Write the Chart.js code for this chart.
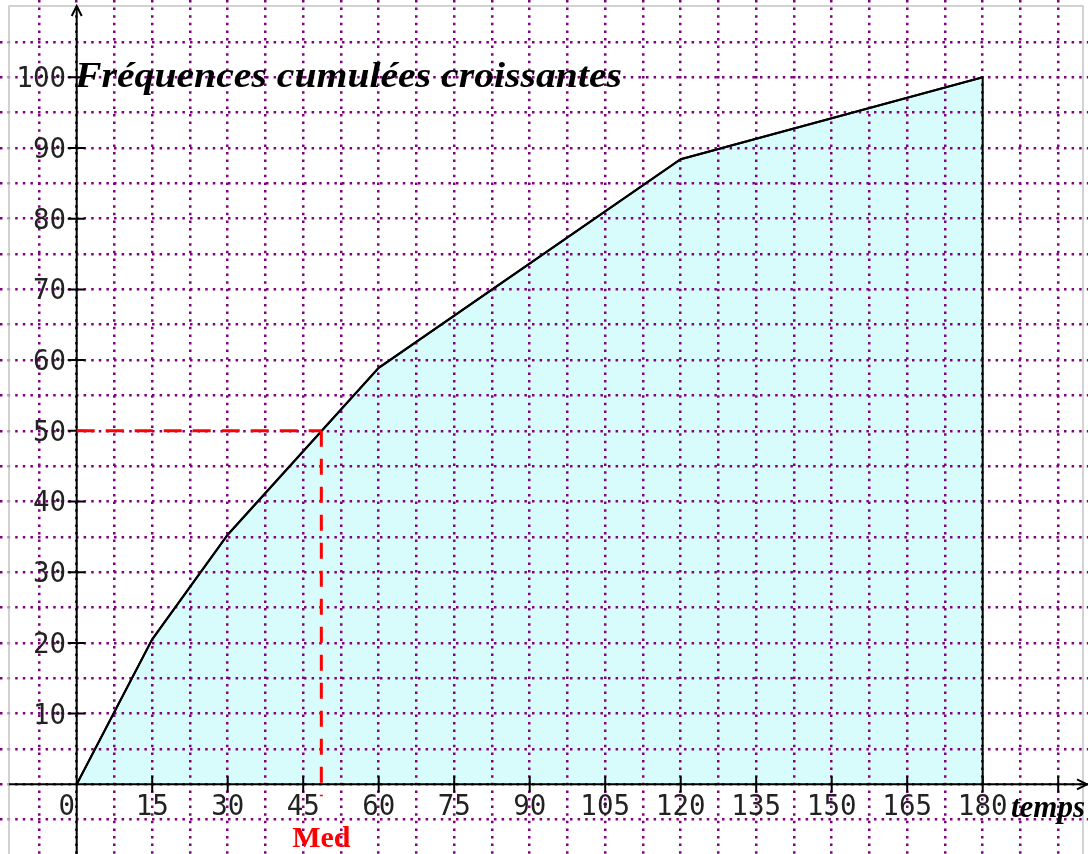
<!DOCTYPE html>
<html>
<head>
<meta charset="utf-8">
<script src="https://cdn.jsdelivr.net/npm/chart.js@4.4.1/dist/chart.umd.min.js"></script>
<style>
  html, body { margin: 0; padding: 0; background: #fff; }
  canvas { display: block; }
</style>
</head>
<body>
<canvas id="chart" width="1088" height="854"></canvas>
<script>
// temps (x) et fréquences cumulées croissantes en % (y)
var temps = [0, 15, 30, 60, 120, 180];
var freqCumulees = [0, 20.5, 35.3, 58.9, 88.4, 100];

var xLabels = [0, 15, 30, 45, 60, 75, 90, 105, 120, 135, 150, 165, 180];
var xTickMarks = [15, 30, 45, 60, 75, 90, 105, 120, 135, 150, 165, 180, 195];
var yLabels = [10, 20, 30, 40, 50, 60, 70, 80, 90, 100];

var mediane = 48.6;
var medianeFreq = 50;

function fitText(ctx, txt, x, y, w) {
    var m = ctx.measureText(txt).width;
    ctx.save();
    ctx.translate(x, y);
    ctx.scale(w / m, 1);
    ctx.fillText(txt, 0, 0);
    ctx.restore();
}

var decor = {
    id: 'decor',
    afterDraw: function (chart) {
        var ctx = chart.ctx;
        var xs = chart.scales.x, ys = chart.scales.y;
        var x0 = xs.getPixelForValue(0), y0 = ys.getPixelForValue(0);
        ctx.save();

        // cadre
        ctx.strokeStyle = '#c4c4c4';
        ctx.lineWidth = 1.5;
        ctx.strokeRect(9, 6, 1074, 900);

        // polygone : re-tracer la courbe par dessus la grille + côté vertical final
        var pts = chart.getDatasetMeta(0).data;
        ctx.strokeStyle = '#000';
        ctx.lineWidth = 2;
        ctx.beginPath();
        ctx.moveTo(pts[0].x, pts[0].y);
        for (var i = 1; i < pts.length; i++) ctx.lineTo(pts[i].x, pts[i].y);
        ctx.lineTo(pts[pts.length - 1].x, y0);
        ctx.stroke();

        // axes
        ctx.lineWidth = 2;
        ctx.beginPath();
        ctx.moveTo(9, y0); ctx.lineTo(1087, y0);
        ctx.moveTo(x0, 854); ctx.lineTo(x0, 6);
        ctx.stroke();
        // flèches
        ctx.beginPath();
        ctx.moveTo(1077, y0 - 5); ctx.lineTo(1087, y0); ctx.lineTo(1077, y0 + 5);
        ctx.moveTo(x0 - 5, 16); ctx.lineTo(x0, 6); ctx.lineTo(x0 + 5, 16);
        ctx.stroke();

        // graduations
        ctx.beginPath();
        xTickMarks.forEach(function (v) {
            var px = xs.getPixelForValue(v);
            ctx.moveTo(px, y0 - 8); ctx.lineTo(px, y0 + 8);
        });
        yLabels.forEach(function (v) {
            var py = ys.getPixelForValue(v);
            ctx.moveTo(x0 - 9, py); ctx.lineTo(x0 + 8, py);
        });
        ctx.stroke();

        // étiquettes
        ctx.fillStyle = '#222';
        ctx.font = '27.5px "DejaVu Sans Mono"';
        ctx.textAlign = 'center';
        ctx.textBaseline = 'alphabetic';
        xLabels.forEach(function (v) {
            var px = xs.getPixelForValue(v);
            if (v === 0) px -= 10;
            ctx.fillText(String(v), px, y0 + 31);
        });
        ctx.textAlign = 'right';
        yLabels.forEach(function (v) {
            ctx.fillText(String(v), 66, ys.getPixelForValue(v) + 10);
        });

        // médiane
        var xm = xs.getPixelForValue(mediane), ym = ys.getPixelForValue(medianeFreq);
        ctx.strokeStyle = '#ff0000';
        ctx.lineWidth = 3;
        ctx.setLineDash([18, 11]);
        ctx.beginPath();
        ctx.moveTo(x0, ym); ctx.lineTo(xm, ym);
        ctx.stroke();
        ctx.setLineDash([16, 12]);
        ctx.beginPath();
        ctx.moveTo(xm, ym); ctx.lineTo(xm, ys.getPixelForValue(-1.7));
        ctx.stroke();
        ctx.setLineDash([]);

        // textes
        ctx.fillStyle = '#000';
        ctx.textAlign = 'left';
        ctx.font = 'bold italic 36px "Liberation Serif"';
        fitText(ctx, 'Fréquences cumulées croissantes', 75, 87, 547);
        ctx.font = 'bold italic 31px "Liberation Serif"';
        ctx.fillText('temps', 1011, 817);
        ctx.fillStyle = '#ff0000';
        ctx.textAlign = 'center';
        ctx.font = 'bold 30px "Liberation Serif"';
        ctx.fillText('Med', xm, 847);

        ctx.restore();
    }
};

function gridTicks(from, to, step) {
    return function (scale) {
        var t = [];
        for (var v = from; v <= to + 1e-9; v += step) t.push({ value: v });
        scale.ticks = t;
    };
}

new Chart(document.getElementById('chart'), {
    type: 'line',
    data: {
        datasets: [{
            data: temps.map(function (t, i) { return { x: t, y: freqCumulees[i] }; }),
            borderColor: '#000',
            borderWidth: 2,
            backgroundColor: '#d8fcfc',
            fill: 'origin',
            pointRadius: 0,
            tension: 0
        }]
    },
    options: {
        responsive: false,
        animation: false,
        devicePixelRatio: 1,
        layout: { padding: 0 },
        plugins: { legend: { display: false }, tooltip: { enabled: false } },
        scales: {
            x: {
                type: 'linear',
                min: -15.24,
                max: 200.92,
                afterFit: function (s) { s.height = 0; },
                afterBuildTicks: gridTicks(-7.5, 195, 7.5),
                ticks: { display: false },
                grid: { color: '#800080', lineWidth: 2.5, drawTicks: false, z: 1 },
                border: { display: false, dash: [2.5, 5.1] }
            },
            y: {
                type: 'linear',
                min: -9.86,
                max: 110.93,
                afterFit: function (s) { s.width = 0; },
                afterBuildTicks: gridTicks(-5, 105, 5),
                ticks: { display: false },
                grid: { color: '#800080', lineWidth: 2.5, drawTicks: false, z: 1 },
                border: { display: false, dash: [2.5, 5.1] }
            }
        }
    },
    plugins: [decor]
});
</script>
</body>
</html>
